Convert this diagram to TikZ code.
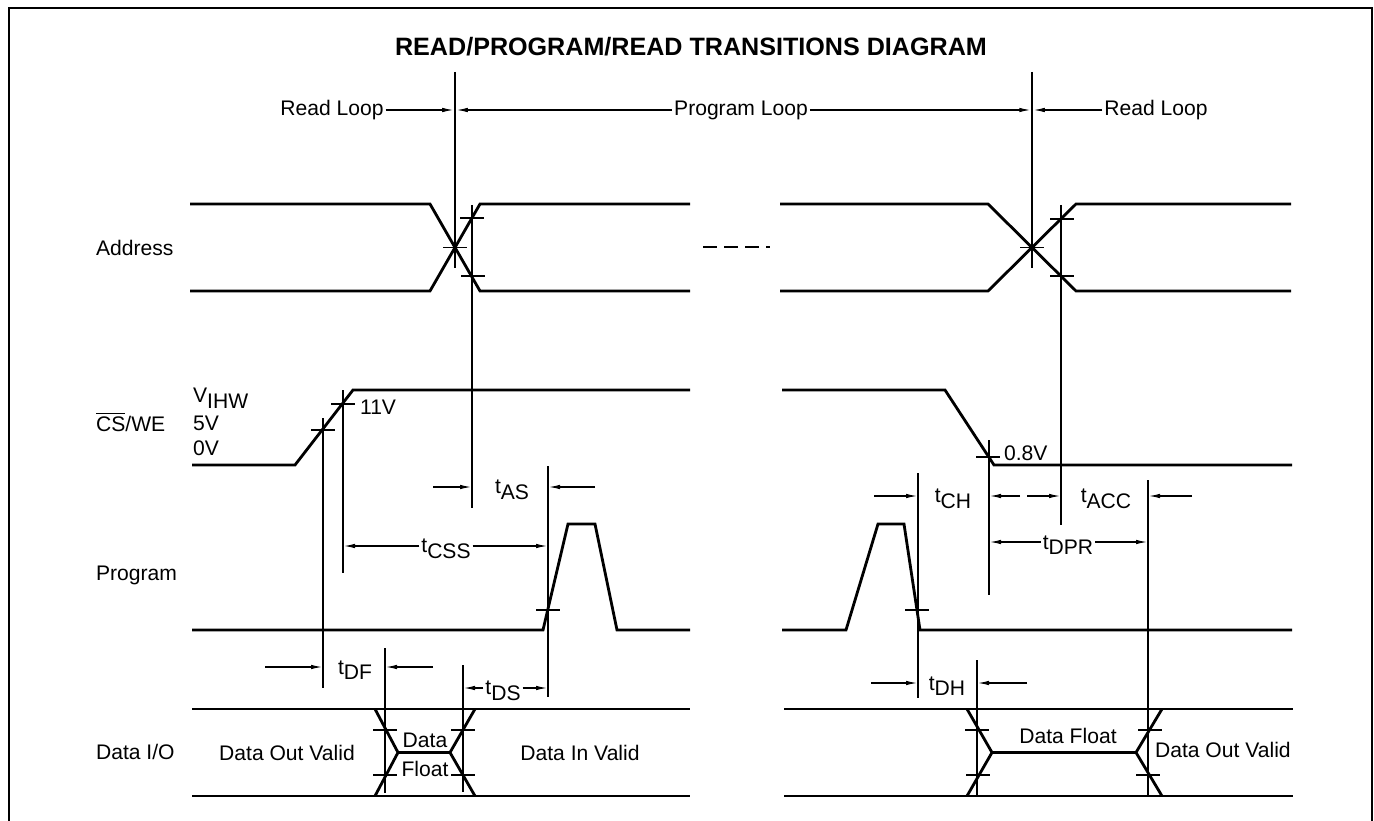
\documentclass[tikz,border=0pt]{standalone}
\usepackage{fontspec}
\setmainfont{Liberation Sans}
\usetikzlibrary{arrows.meta,positioning}

\newcommand{\tsym}[1]{t\raisebox{-0.5ex}{#1}}
\newcommand{\tk}[2]{\draw[tick] ({#1-12},#2) -- ({#1+12},#2);}

\begin{document}
\begin{tikzpicture}[
		x=0.02cm, y=-0.02cm,
		sig/.style={line width=1.6pt, line join=miter},
		ref/.style={line width=0.6pt},
		tick/.style={line width=0.6pt},
		arr/.style={-{Latex[length=2.2mm,width=0.9mm]}, line width=0.6pt},
		lbl/.style={font=\fontsize{12}{14}\selectfont, inner sep=1pt},
		sname/.style={lbl, anchor=west},
	]
	\useasboundingbox (0,0) rectangle (1374,821);
	% Frame and title
	\draw[line width=1.1pt] (9,821) -- (9,8) -- (1372,8) -- (1372,821);
	\node[font=\fontsize{14.3}{17}\selectfont\bfseries] (title) at (691,47) {READ/PROGRAM/READ TRANSITIONS DIAGRAM};

	% Loop markers
	\coordinate (loopA) at (455,110);
	\coordinate (loopB) at (1032,110);
	\draw[ref] (455,72) -- (455,268);
	\draw[ref] (1032,72) -- (1032,268);
	\node[lbl] (readL) at (332,110) {Read Loop};
	\node[lbl] (progL) at (741,110) {Program Loop};
	\node[lbl] (readR) at (1156,110) {Read Loop};
	\draw[arr, shorten >=1pt] (readL) -- (loopA);
	\draw[arr, shorten >=1pt] (progL) -- (loopA);
	\draw[arr, shorten >=1pt] (progL) -- (loopB);
	\draw[arr, shorten >=1pt] (readR) -- (loopB);

	% Signal names
	\node[sname] (addr) at (94,248) {Address};
	\node[sname] (csw) at (94,422) {$\overline{\mbox{CS}}$/WE};
	\node[sname] (prog) at (94,575) {Program};
	\node[sname] (dio) at (94,752) {Data I/O};

	% Address
	\draw[sig] (190,204) -- (430,204) -- (480,291) -- (690,291);
	\draw[sig] (190,291) -- (430,291) -- (480,204) -- (690,204);
	\draw[sig] (780,204) -- (988,204) -- (1076,291) -- (1291,291);
	\draw[sig] (780,291) -- (988,291) -- (1076,204) -- (1291,204);
	\draw[line width=1pt, dash pattern=on 8pt off 4pt] (703,247) -- (770,247);
	\tk{455}{247.5} \tk{472}{218} \tk{473}{276}
	\tk{1032}{247.5} \tk{1062}{219} \tk{1062}{276}
	\draw[ref] (472,205) -- (472,508);
	\draw[ref] (1061,205) -- (1061,525);

	% CS/WE
	\draw[sig] (192,465) -- (295,465) -- (353,390) -- (690,390);
	\draw[sig] (782,390) -- (945,390) -- (994,465) -- (1292,465);
	\tk{323}{430} \tk{343}{404} \tk{988}{457}
	\draw[ref] (323,418) -- (323,688);
	\draw[ref] (343,390) -- (343,573);
	\draw[ref] (989,440) -- (989,595);
	\node[sname] (vihw) at (191,398) {V\raisebox{-0.5ex}{IHW}};
	\node[sname] (v5) at (191,423) {5V};
	\node[sname] (v0) at (191,448) {0V};
	\node[sname] (v11) at (358,407) {11V};
	\node[sname] (v08) at (1002,453) {0.8V};

	% Program
	\draw[sig] (192,630) -- (543,630) -- (568,524) -- (595,524) -- (617,630) -- (690,630);
	\draw[sig] (782,630) -- (846,630) -- (878,524) -- (904,524) -- (920,630) -- (1292,630);
	\tk{548}{610} \tk{917}{610}
	\draw[ref] (548,466) -- (548,697);
	\draw[ref] (918,473) -- (918,698);

	% Data I/O
	\draw[sig] (192,709) -- (690,709);
	\draw[sig] (192,796) -- (690,796);
	\draw[sig] (375,709) -- (398,752.5) -- (450,752.5) -- (475,709);
	\draw[sig] (375,796) -- (398,752.5);
	\draw[sig] (450,752.5) -- (475,796);
	\draw[sig] (784,709) -- (1293,709);
	\draw[sig] (784,796) -- (1293,796);
	\draw[sig] (967,709) -- (992,752.5) -- (1136,752.5) -- (1162,709);
	\draw[sig] (967,796) -- (992,752.5);
	\draw[sig] (1136,752.5) -- (1162,796);
	\tk{385}{730} \tk{385}{775} \tk{463}{730} \tk{463}{775}
	\tk{977}{730} \tk{978}{775} \tk{1150}{730} \tk{1148}{775}
	\draw[ref] (385,648) -- (385,793);
	\draw[ref] (463,665) -- (463,792);
	\draw[ref] (977,660) -- (977,796);
	\draw[ref] (1148,480) -- (1148,796);
	\node[lbl] (dov) at (287,753) {Data Out Valid};
	\node[lbl] (dfa) at (425,740) {Data};
	\node[lbl] (dfb) at (425,769) {Float};
	\node[lbl] (div) at (580,753) {Data In Valid};
	\node[lbl] (dfl) at (1068,736) {Data Float};
	\node[sname] (dovr) at (1153,750) {Data Out Valid};

	% Timing parameters
	\node[lbl] (tas) at (512,490) {\tsym{AS}};
	\draw[arr] (433,487) -- (471,487);
	\draw[arr] (595,487) -- (549,487);
	\node[lbl] (tcss) at (446,549) {\tsym{CSS}};
	\draw[arr] (tcss.west |- 0,546) -- (344,546);
	\draw[arr] (tcss.east |- 0,546) -- (547,546);
	\node[lbl] (tdf) at (355,670) {\tsym{DF}};
	\draw[arr] (265,667) -- (322,667);
	\draw[arr] (433,667) -- (386,667);
	\node[lbl] (tds) at (503,691) {\tsym{DS}};
	\draw[arr] (tds.west |- 0,688) -- (464,688);
	\draw[arr] (tds.east |- 0,688) -- (547,688);
	\node[lbl] (tch) at (953,499) {\tsym{CH}};
	\draw[arr] (874,496) -- (917,496);
	\draw[arr] (1020,496) -- (990,496);
	\node[lbl] (tacc) at (1106,499) {\tsym{ACC}};
	\draw[arr] (1027,496) -- (1060,496);
	\draw[arr] (1192,496) -- (1149,496);
	\node[lbl] (tdpr) at (1068,545) {\tsym{DPR}};
	\draw[arr] (tdpr.west |- 0,542) -- (990,542);
	\draw[arr] (tdpr.east |- 0,542) -- (1147,542);
	\node[lbl] (tdh) at (947,686) {\tsym{DH}};
	\draw[arr] (871,683) -- (917,683);
	\draw[arr] (1027,683) -- (978,683);
\end{tikzpicture}
\end{document}
